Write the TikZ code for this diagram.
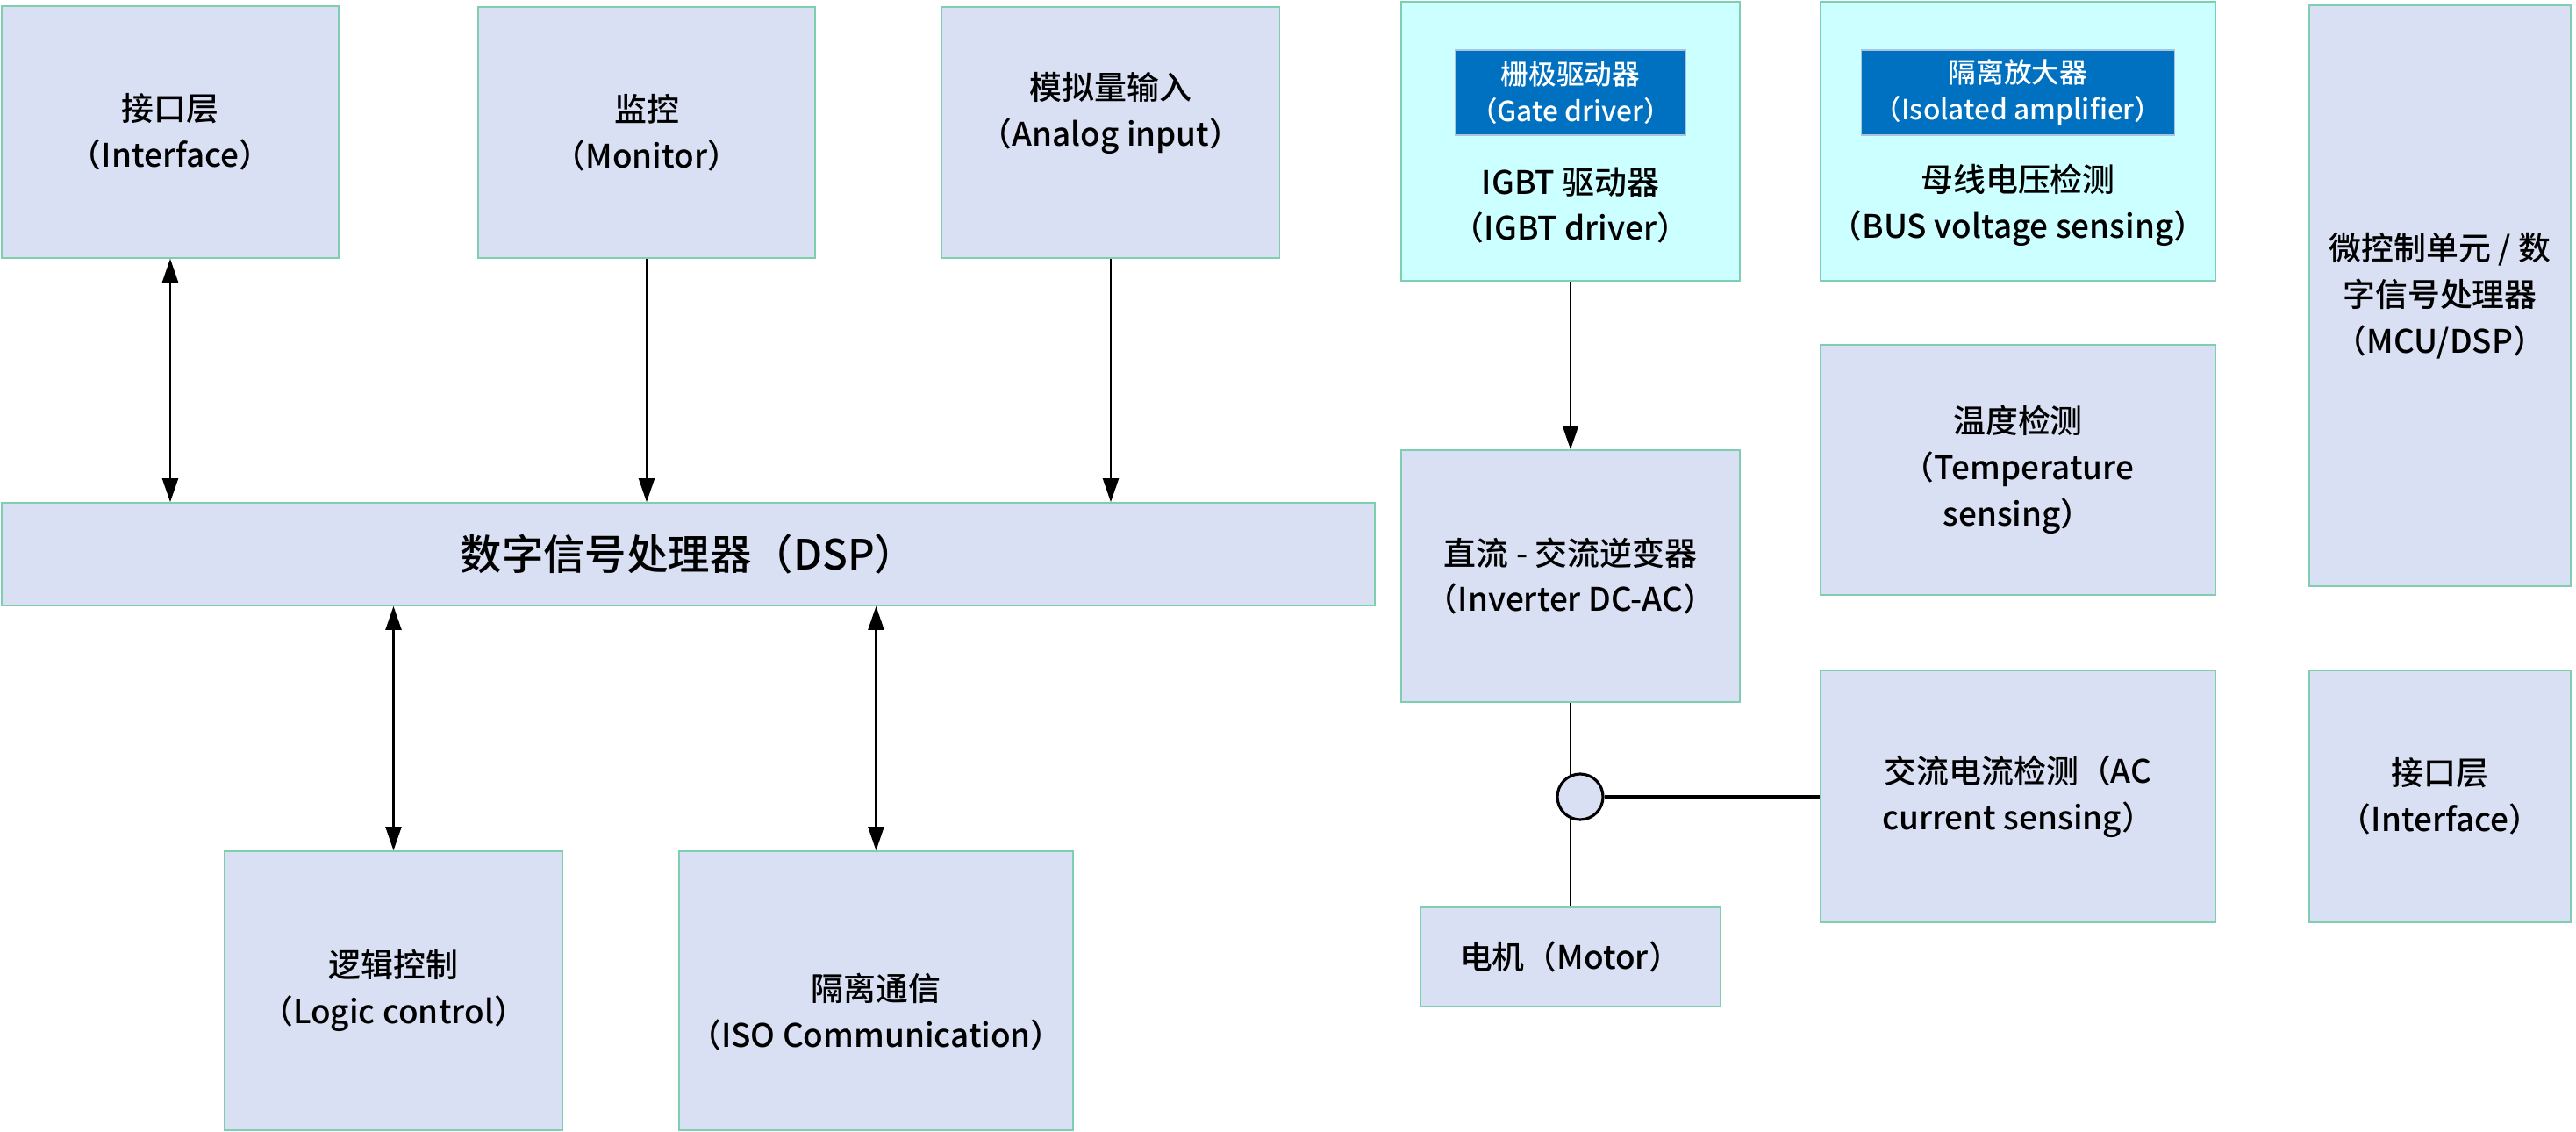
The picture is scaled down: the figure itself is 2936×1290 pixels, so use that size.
\documentclass[tikz,border=0pt]{standalone}
\usepackage{fontspec}
\setmainfont{Noto Sans CJK SC}[UprightFont={* Medium}]
\usetikzlibrary{arrows.meta}
\definecolor{blkfill}{HTML}{DAE0F3}
\definecolor{blkline}{HTML}{7DCFB0}
\definecolor{drvfill}{HTML}{CCFFFF}
\definecolor{tagblue}{HTML}{0070C0}
\definecolor{tagline}{HTML}{A9C4DC}
\tikzset{
  block/.style={rectangle,draw=blkline,fill=blkfill,line width=.45pt,inner sep=0pt,align=center,text=black},
  drvblock/.style={block,fill=drvfill},
  tag/.style={rectangle,draw=tagline,fill=tagblue,line width=.45pt,inner sep=0pt,align=center,text=white,font=\fontsize{9}{12}\selectfont},
  txt/.style={align=center,inner sep=0pt,text=black},
  sig/.style={-{Triangle[length=2.7mm,width=1.8mm]},line width=.6pt},
  bisig/.style={{Triangle[length=2.7mm,width=1.8mm]}-{Triangle[length=2.7mm,width=1.8mm]},line width=.6pt},
  wire/.style={line width=.6pt},
  sensor/.style={circle,draw=black,fill=blkfill,line width=.9pt,minimum size=5.2mm,inner sep=0pt},
}
\begin{document}
\begin{tikzpicture}[x=.1mm,y=-.1mm,font=\fontsize{10.5}{15}\selectfont]
  \useasboundingbox (0,0) rectangle (2936,1290);
  \node[block,minimum width=38.4mm,minimum height=28.7mm] (iface) at (194,150.5) {接口层\\（Interface）};
  \node[block,minimum width=38.4mm,minimum height=28.6mm] (monitor) at (737,151) {监控\\（Monitor）};
  \node[block,minimum width=38.5mm,minimum height=28.6mm] (analog) at (1266,151) {};
  \node[txt] (analogtxt) at (1266,129) {模拟量输入\\（Analog input）};
  \node[block,minimum width=156.5mm,minimum height=11.7mm,font=\fontsize{13.5}{16}\selectfont] (dsp) at (784.5,631.5) {数字信号处理器（DSP）};
  \node[block,minimum width=38.5mm,minimum height=31.8mm] (logic) at (448.5,1129) {逻辑控制\\（Logic control）};
  \node[block,minimum width=44.9mm,minimum height=31.8mm] (isocomm) at (998.5,1129) {};
  \node[txt] (isocommtxt) at (998.5,1153) {隔离通信\\（ISO Communication）};
  \node[drvblock,minimum width=38.6mm,minimum height=31.8mm] (igbt) at (1790,161) {};
  \node[tag,minimum width=26.3mm,minimum height=9.7mm] (gate) at (1790,105.5) {栅极驱动器\\（Gate driver）};
  \node[txt] (igbttxt) at (1790,234) {IGBT 驱动器\\（IGBT driver）};
  \node[drvblock,minimum width=45.1mm,minimum height=31.8mm] (bus) at (2300,161) {};
  \node[tag,minimum width=35.7mm,minimum height=9.7mm] (isoamp) at (2300,105.5) {隔离放大器\\（Isolated amplifier）};
  \node[txt] (bustxt) at (2300,234) {母线电压检测\\（BUS voltage sensing）};
  \node[block,minimum width=29.8mm,minimum height=66.2mm] (mcu) at (2781,337) {微控制单元 / 数\\字信号处理器\\（MCU/DSP）};
  \node[block,minimum width=45.1mm,minimum height=28.5mm] (temp) at (2300,535.5) {温度检测\\（Temperature\\sensing）};
  \node[block,minimum width=38.6mm,minimum height=28.7mm] (inverter) at (1790,656.5) {直流 - 交流逆变器\\（Inverter DC-AC）};
  \node[block,minimum width=45.1mm,minimum height=28.7mm] (accur) at (2300,907.5) {交流电流检测（AC\\current sensing）};
  \node[block,minimum width=29.8mm,minimum height=28.7mm] (iface2) at (2781,907.5) {接口层\\（Interface）};
  \node[block,minimum width=34.1mm,minimum height=11.3mm] (motor) at (1790,1090.5) {电机（Motor）};
  \draw[bisig] (iface.south) -- (iface.south |- dsp.north);
  \draw[sig] (monitor.south) -- (monitor.south |- dsp.north);
  \draw[sig] (analog.south) -- (analog.south |- dsp.north);
  \draw[bisig] (logic.north |- dsp.south) -- (logic.north);
  \draw[bisig] (isocomm.north |- dsp.south) -- (isocomm.north);
  \draw[sig] (igbt.south) -- (inverter.north);
  \draw[wire] (inverter.south) -- (motor.north);
  \node[sensor] (ct) at (1801,908) {};
  \draw[wire] (inverter.south) -- (inverter.south |- ct.north);
  \draw[line width=1pt] (ct.east) -- (accur.west |- ct.east);
\end{tikzpicture}
\end{document}
